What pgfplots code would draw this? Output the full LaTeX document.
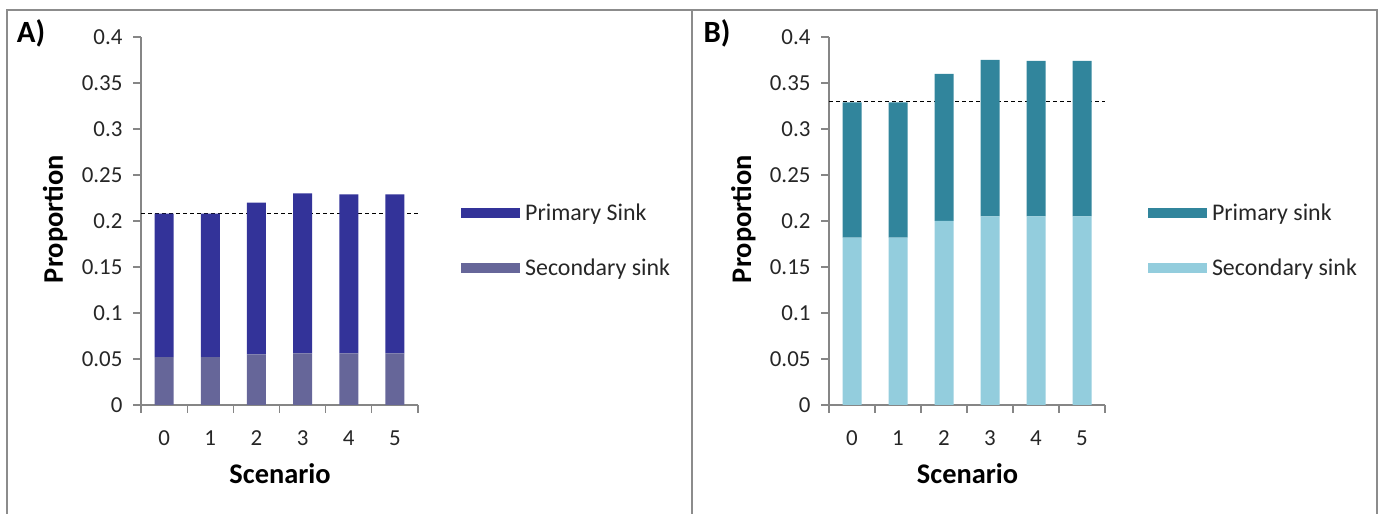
\documentclass[border=0pt]{standalone}
\usepackage{pgfplots}
\pgfplotsset{compat=1.18}
\usepackage{pgfplotstable}
\usepackage{fontspec}
\setmainfont{Carlito}
\definecolor{aprim}{HTML}{333399}
\definecolor{asec}{HTML}{666699}
\definecolor{bprim}{HTML}{31859C}
\definecolor{bsec}{HTML}{93CDDD}
\definecolor{axgray}{HTML}{868686}
\definecolor{framegray}{HTML}{8C8C8C}
\definecolor{txt}{HTML}{262626}

\pgfplotstableread{
x sec prim
0 0.052 0.156
1 0.052 0.156
2 0.055 0.165
3 0.056 0.174
4 0.056 0.173
5 0.056 0.173
}\dataA
\pgfplotstableread{
x sec prim
0 0.182 0.147
1 0.182 0.147
2 0.200 0.160
3 0.205 0.170
4 0.205 0.169
5 0.205 0.169
}\dataB

\pgfplotsset{
  panel/.style={
    scale only axis, height=368bp,
    xmin=-0.5, xmax=5.5, ymin=0, ymax=0.4,
    axis x line*=bottom, axis y line*=left,
    axis line style={draw=axgray, line width=1.3bp},
    ybar stacked, bar width=19bp,
    xtick={-0.5,0.5,1.5,2.5,3.5,4.5,5.5},
    x tick label as interval,
    xticklabels={0,1,2,3,4,5},
    ytick={0,0.05,0.1,0.15,0.2,0.25,0.3,0.35,0.4},
    yticklabels={0,0.05,0.1,0.15,0.2,0.25,0.3,0.35,0.4},
    scaled y ticks=false,
    tick align=outside, major tick length=8bp,
    tick style={draw=axgray, line width=1.3bp},
    ticklabel style={font=\fontsize{23}{23}\selectfont, text=txt},
    xticklabel style={yshift=-14bp},
    yticklabel style={xshift=-7bp},
    label style={font=\bfseries\fontsize{28.5}{28.5}\selectfont, text=black},
    ylabel style={at={(rel axis cs:-0.31,0.505)}, anchor=center},
    xlabel style={at={(rel axis cs:0.502,-0.1875)}, anchor=center},
    xlabel={Scenario}, ylabel={Proportion},
    extra y tick labels={},
    extra y tick style={major tick length=0pt, grid=major,
      major grid style={draw=black, line width=0.9bp, dash pattern=on 4bp off 3bp}},
    reverse legend,
    legend cell align=left,
    legend style={at={(rel axis cs:1.155,0.447)}, anchor=west, draw=none, fill=none,
      font=\fontsize{24}{24}\selectfont, text=txt, row sep=33bp, inner sep=0pt,
      nodes={inner xsep=5bp}},
  }
}

\begin{document}
\begin{tikzpicture}[x=1bp,y=1bp]
\useasboundingbox (0,0) rectangle (1378,514);
\draw[line width=2bp, color=framegray] (7,-10) -- (7,504) -- (1377,504) -- (1377,-10);
\draw[line width=2bp, color=framegray] (692,504) -- (692,-10);
\node[font=\bfseries\fontsize{31}{31}\selectfont] at (31,481) {A)};
\node[font=\bfseries\fontsize{31}{31}\selectfont] at (717,481) {B)};

\begin{axis}[panel, width=277bp, at={(141bp,109bp)}, anchor=south west,
  extra y ticks={0.208}]
\addplot[fill=asec, draw=none,
  legend image code/.code={\fill[asec] (0bp,-5bp) rectangle (59bp,5bp);}]
  table[x=x, y=sec] {\dataA};
\addlegendentry{Secondary sink}
\addplot[fill=aprim, draw=none,
  legend image code/.code={\fill[aprim] (0bp,-5bp) rectangle (59bp,5bp);}]
  table[x=x, y=prim] {\dataA};
\addlegendentry{Primary Sink}
\end{axis}

\begin{axis}[panel, width=276bp, at={(829bp,109bp)}, anchor=south west,
  extra y ticks={0.33}]
\addplot[fill=bsec, draw=none,
  legend image code/.code={\fill[bsec] (0bp,-5bp) rectangle (59bp,5bp);}]
  table[x=x, y=sec] {\dataB};
\addlegendentry{Secondary sink}
\addplot[fill=bprim, draw=none,
  legend image code/.code={\fill[bprim] (0bp,-5bp) rectangle (59bp,5bp);}]
  table[x=x, y=prim] {\dataB};
\addlegendentry{Primary sink}
\end{axis}
\end{tikzpicture}
\end{document}
